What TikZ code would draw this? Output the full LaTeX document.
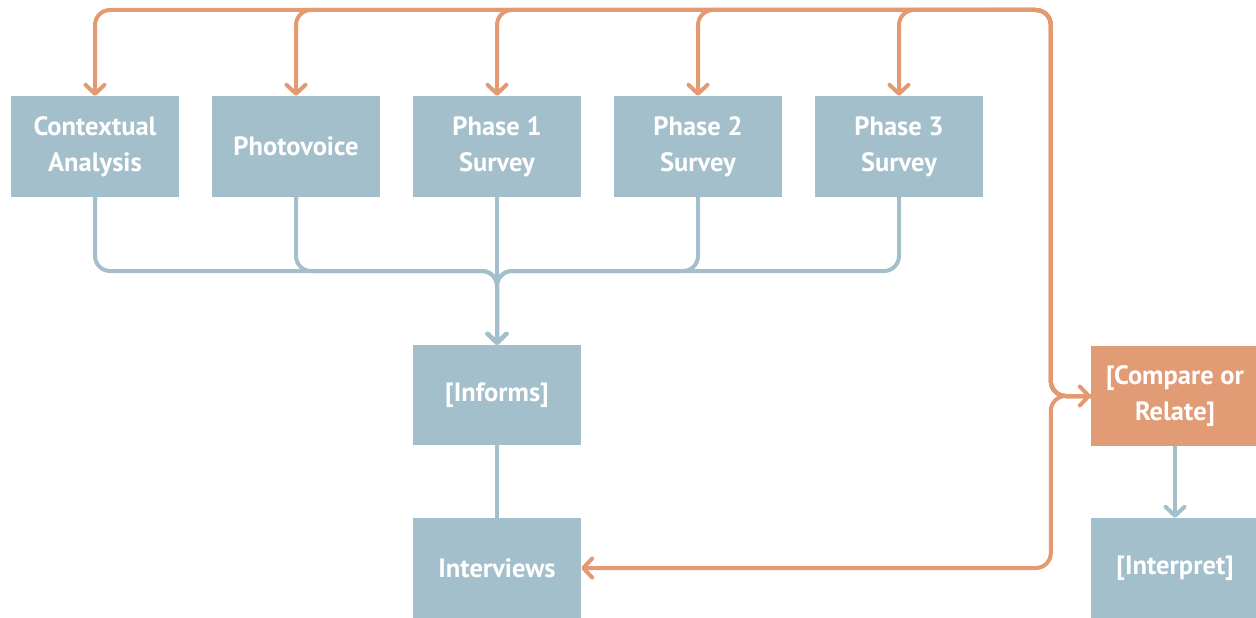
\documentclass[tikz,border=0pt]{standalone}
\usepackage{fontspec}
\setmainfont{PT Sans}
\usetikzlibrary{arrows.meta}
\definecolor{boxblue}{HTML}{A3BFCB}
\definecolor{boxorange}{HTML}{E19B75}
\definecolor{lineblue}{HTML}{A3BFCB}
\definecolor{lineorange}{HTML}{E39A72}
\begin{document}
\begin{tikzpicture}[x=1pt,y=-1pt,
  box/.style={fill=boxblue, minimum width=168pt, minimum height=101pt, text=white,
    font=\bfseries\fontsize{26.5}{36}\selectfont, align=center, inner sep=0pt},
  obox/.style={box, fill=boxorange},
  tip/.style={-{Straight Barb[length=9pt,width=19pt,line cap=round,line join=round]}},
  oline/.style={draw=lineorange, line width=4pt, rounded corners=15pt},
  oarrow/.style={oline, tip},
  bline/.style={draw=lineblue, line width=4pt, rounded corners=15pt},
  barrow/.style={bline, tip}]
\useasboundingbox (0,0) rectangle (1256,618);
\clip (0,0) rectangle (1256,618);
% nodes
\node[box] (ctx) at (95,146.5) {Contextual\\Analysis};
\node[box] (pho) at (296,146.5) {Photovoice};
\node[box] (p1) at (497,146.5) {Phase 1\\Survey};
\node[box] (p2) at (698,146.5) {Phase 2\\Survey};
\node[box] (p3) at (899,146.5) {Phase 3\\Survey};
\node[box, minimum height=100pt] (inf) at (497,395) {[Informs]};
\node[box, minimum height=100pt] (intv) at (497,568) {Interviews};
\node[obox, minimum height=100pt] (cmp) at (1175,396) {[Compare or\\Relate]};
\node[box, minimum height=100pt] (intp) at (1175,568) {[Interpret]};
% helper coordinates
\coordinate (hub) at ([xshift=-40pt]cmp.west);
\path (hub) ++(0,-386) coordinate (tr);
\path (tr) ++(-60,0) coordinate (trl);
\coordinate (bm) at (497,271);
% orange connectors
\draw[oarrow] (cmp.west) -- (hub) -- (tr) -| (ctx.north);
\draw[oarrow] (cmp.west) -- (hub) -- (tr) -| (pho.north);
\draw[oarrow] (cmp.west) -- (hub) -- (tr) -| (p1.north);
\draw[oarrow] (cmp.west) -- (hub) -- (tr) -| (p2.north);
\draw[oarrow] (cmp.west) -- (hub) -- (tr) -| (p3.north);
\draw[oarrow] (trl) -- (tr) -- (hub) -- (cmp.west);
\draw[oarrow] (cmp.west) -- (hub) |- (intv.east);
% blue connectors
\draw[barrow] (ctx.south) |- (bm) -- (inf.north);
\draw[barrow] (pho.south) |- (bm) -- (inf.north);
\draw[barrow] (p1.south) -- (inf.north);
\draw[barrow] (p2.south) |- (bm) -- (inf.north);
\draw[barrow] (p3.south) |- (bm) -- (inf.north);
\draw[bline] (inf.south) -- (intv.north);
\draw[barrow] (cmp.south) -- (intp.north);
\end{tikzpicture}
\end{document}
